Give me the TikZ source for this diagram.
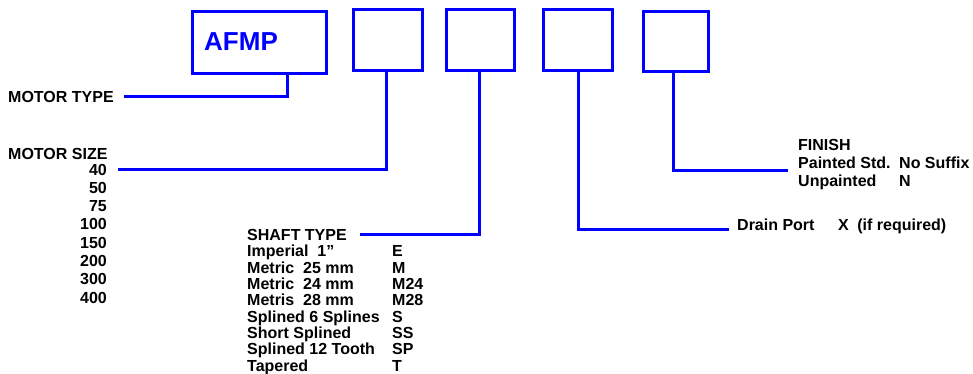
\documentclass[tikz,border=0pt]{standalone}
\usepackage{fontspec}
\setmainfont{Liberation Sans}
\usetikzlibrary{positioning}

\begin{document}
\begin{tikzpicture}[x=1pt,y=-1pt]
		\useasboundingbox (0,0) rectangle (973,373);

		% the five code boxes
		\begin{scope}[every node/.style={draw=blue,line width=3pt,minimum height=61pt,inner sep=0pt}]
			\node[minimum width=134pt,minimum height=62pt] (afmp) at (259.5,42.5) {};
			\node[minimum width=69pt] (size) at (388,40) {};
			\node[minimum width=68pt] (shaft) at (480.5,40) {};
			\node[minimum width=69pt] (drain) at (578,40.2) {};
			\node[minimum width=65pt,minimum height=60pt] (finish) at (676,41) {};
		\end{scope}
		\node[anchor=base west,inner sep=0pt,text=blue,font=\fontsize{26}{26}\selectfont\bfseries] (code) at (204,50) {AFMP};

		% labels
		\begin{scope}[every node/.style={inner sep=0pt,font=\fontsize{16}{16}\selectfont\bfseries}]
			\node[anchor=base west] (mtype) at (8,102) {MOTOR TYPE};
			\node[anchor=base west] (msize) at (8,159) {MOTOR SIZE};
			\node[anchor=base east,font=\fontsize{16}{18.3}\selectfont\bfseries] (sizes) at (107,175)
				{\begin{tabular}[t]{@{}r@{}}40\\50\\75\\100\\150\\200\\300\\400\end{tabular}};
			\node[anchor=base west,font=\fontsize{16}{15.75}\selectfont\bfseries] (stype) at (247,240.5)
				{\begin{tabular}[t]{@{}p{145pt}@{}l@{}}
					SHAFT TYPE & \\
					Imperial\ \ 1” & E\\
					Metric\ \ 25 mm & M\\
					Metric\ \ 24 mm & M24\\
					Metris\ \ 28 mm & M28\\
					Splined 6 Splines & S\\
					Short Splined & SS\\
					Splined 12 Tooth & SP\\
					Tapered & T
				\end{tabular}};
			\node[anchor=base west] (dport) at (737,230) {\makebox[101pt][l]{Drain Port}X\hspace{8.5pt}(if required)};
			\node[anchor=base west,font=\fontsize{16}{18}\selectfont\bfseries] (fin) at (798,150)
				{\begin{tabular}[t]{@{}p{101pt}@{}l@{}}
					FINISH & \\
					Painted Std. & No Suffix\\
					Unpainted & N
				\end{tabular}};
		\end{scope}

		% leader lines
		\begin{scope}[every path/.style={draw=blue,line width=3pt}]
			\path ([xshift=27.5pt]afmp.south) |- ([xshift=10pt]mtype.east);
			\path ([xshift=-2pt]size.south) |- ([shift={(11pt,6pt)}]sizes.base east);
			\path ([xshift=-1.5pt]shaft.south) |- ([shift={(113pt,6.5pt)}]stype.base west);
			\path (drain.south) |- ([shift={(-8pt,1pt)}]dport.base west);
			\path ([xshift=-3pt]finish.south) |- ([shift={(-10pt,-20pt)}]fin.base west);
		\end{scope}
\end{tikzpicture}
\end{document}
